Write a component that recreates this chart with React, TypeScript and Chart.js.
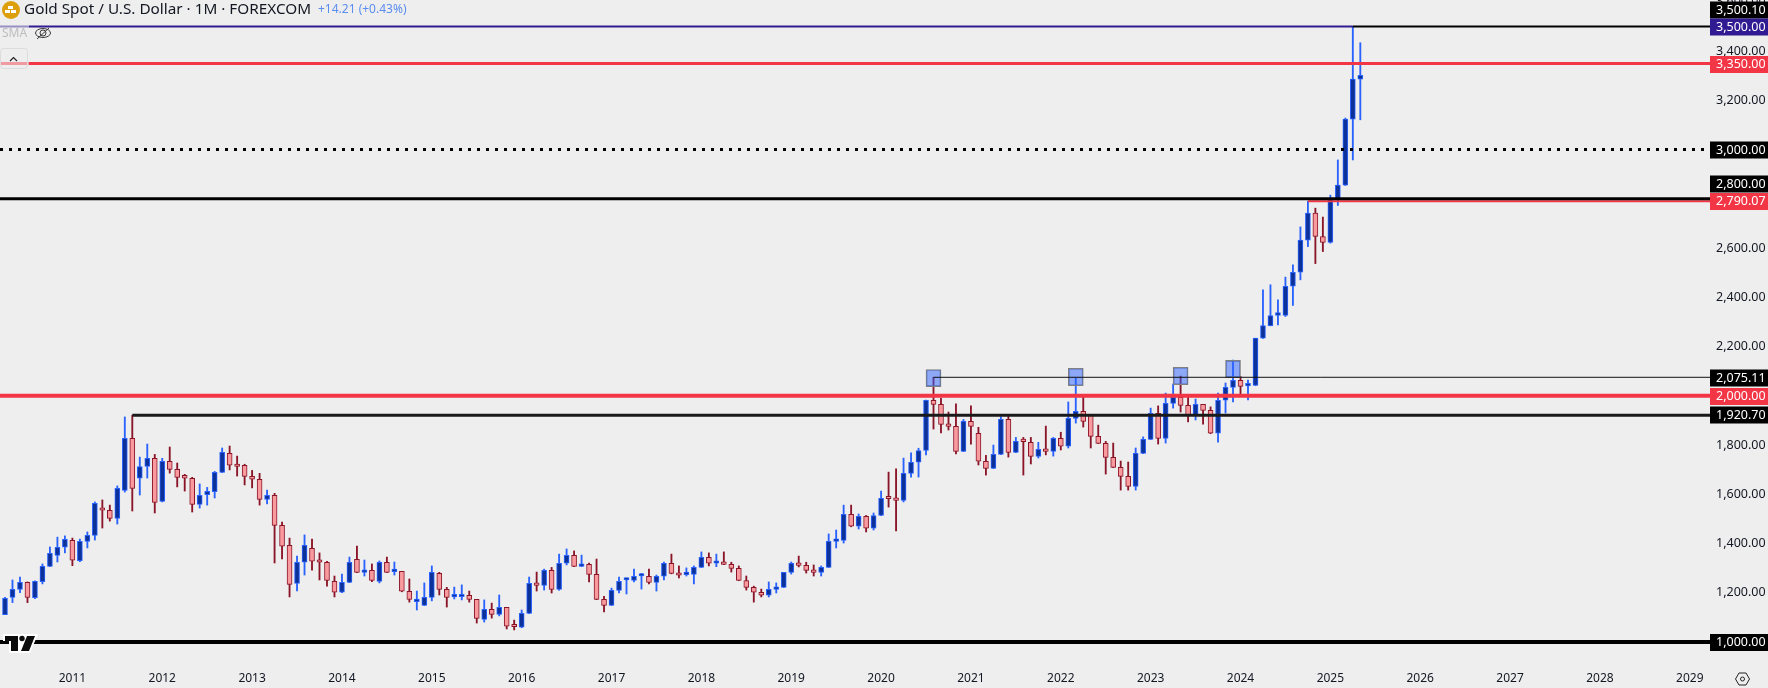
import React, { useEffect, useRef } from "react";
import { Chart, registerables } from "chart.js";

Chart.register(...registerables);

const FONT = '"Noto Sans", sans-serif';

// Monthly candles, first bar April 2010
const opens = [
  1111,1181,1214,1242,1180,1245,1307,1352,1385,1413,
  1330,1409,1433,1539,1535,1502,1616,1827,1665,1713,
  1746,1571,1734,1701,1677,1665,1559,1598,1611,1689,
  1766,1718,1718,1673,1661,1579,1596,1474,1393,1238,
  1324,1380,1328,1324,1246,1202,1242,1336,1283,1291,
  1246,1324,1286,1287,1206,1164,1149,1181,1279,1214,
  1183,1184,1190,1173,1092,1133,1112,1141,1065,1060,
  1116,1238,1230,1291,1214,1320,1352,1307,1315,1275,
  1173,1149,1210,1252,1250,1268,1267,1242,1267,1320,
  1279,1274,1275,1303,1344,1320,1324,1315,1299,1250,
  1222,1202,1190,1214,1222,1283,1320,1311,1291,1283,
  1303,1409,1413,1519,1470,1510,1462,1514,1584,1584,
  1575,1685,1730,1778,1982,1965,1884,1876,1774,1896,
  1848,1734,1705,1762,1904,1770,1816,1811,1754,1783,
  1774,1827,1795,1908,1937,1921,1835,1807,1750,1709,
  1673,1632,1766,1823,1929,1827,1969,1994,1961,1921,
  1965,1941,1848,1982,2034,2063,2040,2042,2234,2285,
  2326,2326,2445,2502,2632,2742,2647,2623,2799,2856,3124,3286,
];
const highs = [
  1181,1252,1264,1244,1248,1317,1386,1426,1431,1422,
  1418,1447,1569,1577,1556,1634,1914,1921,1751,1804,
  1762,1746,1792,1727,1681,1669,1642,1628,1693,1788,
  1796,1755,1722,1697,1685,1617,1604,1487,1422,1349,
  1435,1418,1362,1328,1268,1276,1345,1390,1333,1317,
  1329,1345,1325,1287,1256,1207,1240,1309,1283,1222,
  1223,1232,1207,1173,1171,1158,1191,1141,1089,1130,
  1264,1284,1296,1303,1357,1378,1370,1353,1321,1337,
  1186,1219,1264,1260,1296,1279,1296,1272,1325,1357,
  1309,1301,1309,1366,1362,1357,1366,1324,1309,1268,
  1227,1215,1244,1240,1283,1325,1349,1324,1313,1309,
  1439,1455,1556,1556,1520,1514,1524,1613,1690,1703,
  1747,1768,1787,1983,2075,1990,1934,1967,1904,1959,
  1872,1758,1800,1915,1918,1831,1831,1831,1811,1877,
  1831,1852,1975,2072,1999,1921,1881,1815,1808,1735,
  1731,1788,1833,1950,1959,2011,2048,2080,2003,1987,
  1965,1955,2011,2052,2145,2079,2064,2234,2430,2451,
  2390,2482,2532,2686,2790,2762,2726,2815,2958,3128,3500,3434,
];
const lows = [
  1111,1160,1200,1160,1176,1236,1306,1325,1362,1310,
  1326,1382,1414,1463,1491,1479,1609,1532,1597,1666,
  1524,1569,1686,1630,1613,1528,1544,1556,1585,1688,
  1699,1674,1638,1626,1556,1561,1321,1337,1183,1207,
  1272,1292,1252,1227,1183,1200,1241,1282,1268,1245,
  1240,1282,1272,1204,1162,1130,1148,1167,1191,1142,
  1175,1171,1162,1077,1081,1097,1106,1053,1049,1058,
  1115,1207,1211,1199,1210,1313,1306,1306,1244,1172,
  1122,1148,1199,1195,1244,1215,1236,1207,1252,1277,
  1260,1268,1236,1302,1309,1306,1314,1284,1249,1211,
  1162,1183,1183,1199,1221,1276,1305,1280,1268,1268,
  1302,1382,1402,1468,1459,1447,1455,1513,1548,1451,
  1569,1670,1670,1760,1865,1849,1861,1764,1773,1804,
  1719,1678,1704,1761,1751,1769,1678,1723,1747,1760,
  1755,1780,1788,1889,1873,1788,1806,1682,1708,1617,
  1617,1617,1765,1822,1804,1808,1950,1934,1894,1902,
  1885,1846,1812,1930,1975,2003,1983,2041,2233,2284,
  2288,2322,2367,2471,2606,2537,2586,2620,2773,2854,2958,3121,
];
const closes = [
  1177,1214,1242,1181,1246,1307,1360,1385,1417,1332,
  1409,1433,1563,1535,1502,1624,1827,1624,1713,1746,
  1567,1734,1701,1669,1665,1559,1596,1612,1689,1770,
  1718,1713,1673,1661,1579,1596,1474,1389,1234,1324,
  1393,1328,1324,1250,1202,1242,1324,1283,1291,1250,
  1324,1283,1287,1206,1173,1165,1181,1283,1214,1181,
  1184,1190,1173,1096,1133,1112,1141,1064,1062,1116,
  1238,1230,1291,1214,1320,1352,1307,1315,1275,1173,
  1149,1210,1246,1255,1267,1271,1242,1267,1320,1279,
  1271,1275,1303,1344,1320,1324,1315,1299,1250,1222,
  1202,1190,1214,1222,1283,1320,1311,1291,1283,1303,
  1409,1413,1519,1470,1510,1462,1514,1584,1582,1575,
  1685,1730,1778,1982,1965,1884,1876,1774,1896,1876,
  1734,1705,1762,1904,1770,1815,1814,1754,1783,1774,
  1827,1795,1908,1937,1896,1835,1807,1750,1709,1673,
  1632,1766,1823,1929,1827,1969,1994,1961,1921,1965,
  1941,1848,1982,2034,2063,2038,2042,2234,2285,2326,
  2338,2445,2502,2632,2742,2647,2623,2799,2856,3124,3286,3302,
];

// Year labels and the bar index of each January
const yearLabels = ["2011","2012","2013","2014","2015","2016","2017","2018","2019","2020","2021","2022","2023","2024","2025","2026","2027","2028","2029"];
const yearBarIndex = yearLabels.map((_, k) => 9 + 12 * k);

const priceTicks = [1000,1200,1400,1600,1800,2000,2200,2400,2600,2800,3000,3200,3400,3600];

// Highlight boxes
const boxBars = [124, 143, 157, 164];
const boxLows = [2037, 2041, 2045, 2074];
const boxHighs = [2107, 2112, 2116, 2144];

// Horizontal levels: value, first bar (null = from the left edge), last bar (null = to the right edge)
const levelValues = [3500.1, 3500, 3350, 3000, 2800, 2790.07, 2075.11, 2000, 1920.7, 1000];
const levelStartBars = [180, null, null, null, null, 174, 124, null, 17, null];
const levelEndBars = [null, 180, null, null, null, null, null, null, null, null];
const levelTexts = ["3,500.10","3,500.00","3,350.00","3,000.00","2,800.00","2,790.07","2,075.11","2,000.00","1,920.70","1,000.00"];

const titleMain = "Gold Spot / U.S. Dollar · 1M · FOREXCOM";
const titleChange = "+14.21 (+0.43%)";
const studyName = "SMA";

const UP_WICK = "#2962ff";
const UP_FILL = "#0c3299";
const DOWN_WICK = "#8b1528";
const DOWN_FILL = "#f99a9e";
const RED = "#f23645";

const levelStyle = [
  { color: "#000000", width: 2, badge: "#000000", dash: [] as number[] },
  { color: "#311b92", width: 2, badge: "#311b92", dash: [] },
  { color: RED, width: 3, badge: RED, dash: [] },
  { color: "#000000", width: 3, badge: "#000000", dash: [3, 6] },
  { color: "#000000", width: 3, badge: "#000000", dash: [] },
  { color: RED, width: 2, badge: RED, dash: [] },
  { color: "#111111", width: 1, badge: "#000000", dash: [] },
  { color: RED, width: 4, badge: RED, dash: [] },
  { color: "#1a1a1a", width: 3, badge: "#000000", dash: [] },
  { color: "#000000", width: 4, badge: "#000000", dash: [] },
];
const badgeCenters = [10, 27, 64.5, 150, 184, 201.5, 378, 396.5, 415, 642.5];

const overlayPlugin = {
  id: "overlay",
  afterDraw(chart: any) {
    const ctx: CanvasRenderingContext2D = chart.ctx;
    const area = chart.chartArea;
    ctx.save();

    // price badges
    ctx.textBaseline = "middle";
    ctx.textAlign = "left";
    ctx.font = `12.5px ${FONT}`;
    levelTexts.forEach((t, k) => {
      const cy = badgeCenters[k];
      ctx.fillStyle = levelStyle[k].badge;
      ctx.fillRect(area.right, cy - 8.5, chart.width - area.right, 17);
      ctx.fillStyle = "#ffffff";
      ctx.fillText(t, area.right + 6, cy);
    });

    // legend veil
    ctx.fillStyle = "rgba(238,238,238,0.55)";
    ctx.fillRect(0, 22, 29, 48);

    // gold icon
    ctx.fillStyle = "#dd9f0c";
    ctx.beginPath();
    ctx.arc(11, 10, 9, 0, Math.PI * 2);
    ctx.fill();
    ctx.fillStyle = "#ffffff";
    ctx.fillRect(5, 10, 5, 3);
    ctx.fillRect(11, 10, 5, 3);
    ctx.fillRect(8, 6, 5, 3);

    // title
    ctx.textBaseline = "middle";
    ctx.font = `15.3px ${FONT}`;
    ctx.fillStyle = "#131722";
    ctx.fillText(titleMain, 24, 10);
    ctx.font = `12px ${FONT}`;
    ctx.fillStyle = "#5b8def";
    ctx.fillText(titleChange, 318, 10);

    // study legend
    ctx.fillStyle = "#bdbdbd";
    ctx.font = `12px ${FONT}`;
    ctx.fillText(studyName, 2, 34);
    ctx.strokeStyle = "#3a3a3a";
    ctx.lineWidth = 1;
    ctx.beginPath();
    ctx.ellipse(43, 33, 7.5, 4.5, 0, 0, Math.PI * 2);
    ctx.moveTo(37, 39);
    ctx.lineTo(49, 28);
    ctx.moveTo(46, 33);
    ctx.arc(43, 33, 3, 0, Math.PI * 2);
    ctx.stroke();

    // collapse button
    ctx.strokeStyle = "#dcdcdc";
    ctx.beginPath();
    ctx.roundRect(0.5, 48.5, 27, 20, 3);
    ctx.stroke();
    ctx.strokeStyle = "#222222";
    ctx.lineWidth = 1.2;
    ctx.beginPath();
    ctx.moveTo(10, 61);
    ctx.lineTo(13.5, 57.5);
    ctx.lineTo(17, 61);
    ctx.stroke();

    // logo at bottom-left
    ctx.fillStyle = "#ffffff";
    ctx.beginPath();
    ctx.moveTo(3, 634);
    ctx.lineTo(38, 634);
    ctx.lineTo(30, 653);
    ctx.lineTo(9, 653);
    ctx.lineTo(9, 641);
    ctx.lineTo(3, 641);
    ctx.closePath();
    ctx.fill();
    ctx.fillStyle = "#0b0b0b";
    ctx.fillRect(5, 636, 13, 5);
    ctx.fillRect(11, 636, 7, 15);
    ctx.beginPath();
    ctx.arc(22, 638.5, 2.7, 0, Math.PI * 2);
    ctx.fill();
    ctx.beginPath();
    ctx.moveTo(27, 636);
    ctx.lineTo(35, 636);
    ctx.lineTo(29, 651);
    ctx.lineTo(21, 651);
    ctx.closePath();
    ctx.fill();

    // settings icon
    ctx.strokeStyle = "#222222";
    ctx.lineWidth = 1;
    ctx.beginPath();
    const sx = 1742.5;
    const sy = 679;
    ctx.moveTo(sx - 7, sy);
    ctx.lineTo(sx - 3.5, sy - 6);
    ctx.lineTo(sx + 3.5, sy - 6);
    ctx.lineTo(sx + 7, sy);
    ctx.lineTo(sx + 3.5, sy + 6);
    ctx.lineTo(sx - 3.5, sy + 6);
    ctx.closePath();
    ctx.moveTo(sx + 2, sy);
    ctx.arc(sx, sy, 2, 0, Math.PI * 2);
    ctx.stroke();

    ctx.restore();
  },
};

const backgroundPlugin = {
  id: "background",
  beforeDraw(chart: any) {
    const ctx = chart.ctx;
    ctx.save();
    ctx.fillStyle = "#eeeeee";
    ctx.fillRect(0, 0, chart.width, chart.height);
    ctx.restore();
  },
};

export default function App() {
  const canvasRef = useRef<HTMLCanvasElement | null>(null);

  useEffect(() => {
    document.body.style.margin = "0";
    document.body.style.background = "#eeeeee";
    const canvas = canvasRef.current;
    if (!canvas) return;

    const isUp = closes.map((c, i) => c >= opens[i]);
    const xMin = -0.668;
    const xMax = 227.7;

    const wickData = highs.map((h, i) => ({ x: i, y: [lows[i], h] }));
    const bodyData = opens.map((o, i) => ({ x: i, y: [Math.min(o, closes[i]), Math.max(o, closes[i])] }));
    const boxData = boxBars.map((b, k) => ({ x: b, y: [boxLows[k], boxHighs[k]] }));

    const levelSets = levelValues.map((v, k) => ({
      type: "line" as const,
      label: levelTexts[k],
      data: [
        { x: levelStartBars[k] ?? xMin, y: v },
        { x: levelEndBars[k] ?? xMax, y: v },
      ],
      borderColor: levelStyle[k].color,
      borderWidth: levelStyle[k].width,
      borderDash: levelStyle[k].dash,
      pointRadius: 0,
      order: k === 4 || k === 0 ? 1 : 2,
      parsing: { xAxisKey: "x", yAxisKey: "y" },
    }));

    const chart = new Chart(canvas, {
      type: "bar",
      data: {
        datasets: [
          {
            label: "Wicks",
            data: wickData as any,
            barThickness: 1.2,
            grouped: false,
            backgroundColor: isUp.map((u) => (u ? UP_WICK : DOWN_WICK)),
            order: 6,
          },
          {
            label: "Bodies",
            data: bodyData as any,
            barThickness: 5,
            grouped: false,
            minBarLength: 2.5,
            backgroundColor: isUp.map((u) => (u ? UP_FILL : DOWN_FILL)),
            borderColor: isUp.map((u) => (u ? UP_WICK : DOWN_WICK)),
            borderWidth: 1,
            borderSkipped: false,
            order: 5,
          },
          {
            label: "Boxes",
            data: boxData as any,
            barThickness: 15,
            grouped: false,
            backgroundColor: "rgba(41,98,255,0.5)",
            borderColor: "#808080",
            borderWidth: 1,
            borderSkipped: false,
            order: 4,
          },
          ...(levelSets as any),
        ],
      },
      options: {
        responsive: false,
        animation: false,
        devicePixelRatio: 1,
        layout: { padding: 0 },
        plugins: {
          legend: { display: false },
          tooltip: { enabled: false },
          title: { display: false },
        },
        scales: {
          x: {
            type: "linear",
            offset: false,
            min: xMin,
            max: xMax,
            grid: { display: false, offset: false, drawTicks: false },
            border: { display: false },
            afterBuildTicks(scale: any) {
              scale.ticks = yearBarIndex.map((value) => ({ value }));
            },
            afterFit(scale: any) {
              scale.height = 26;
              scale.paddingLeft = 0;
              scale.paddingRight = 0;
            },
            ticks: {
              autoSkip: false,
              maxRotation: 0,
              padding: 9,
              color: "#131722",
              font: { family: FONT, size: 12 },
              callback: (v: any) => yearLabels[yearBarIndex.indexOf(Number(v))] ?? "",
            },
          },
          y: {
            type: "linear",
            position: "right",
            min: 918.8,
            max: 3607.6,
            grid: { display: false, drawTicks: false },
            border: { display: false },
            afterBuildTicks(scale: any) {
              scale.ticks = priceTicks.map((value) => ({ value }));
            },
            afterFit(scale: any) {
              scale.width = 58;
              scale.paddingTop = 0;
              scale.paddingBottom = 0;
            },
            ticks: {
              autoSkip: false,
              padding: 6,
              color: "#131722",
              font: { family: FONT, size: 12.5 },
              callback: (v: any) => Number(v).toLocaleString("en-US", { minimumFractionDigits: 2, maximumFractionDigits: 2 }),
            },
          },
        },
      },
      plugins: [backgroundPlugin, overlayPlugin],
    } as any);

    return () => chart.destroy();
  }, []);

  return (
    <div style={{ position: "absolute", left: 0, top: 0, width: 1768, height: 688 }}>
      <canvas ref={canvasRef} width={1768} height={688} style={{ display: "block" }} />
    </div>
  );
}
